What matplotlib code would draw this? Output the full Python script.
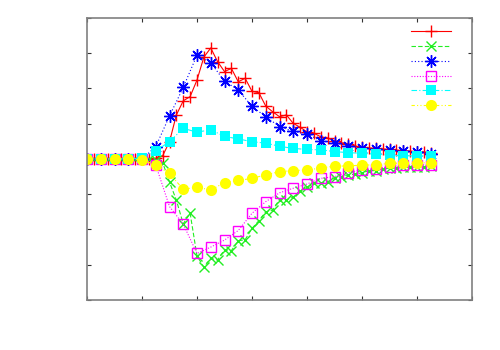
import numpy as np
import matplotlib
matplotlib.use("Agg")
import matplotlib.pyplot as plt

# x positions (index units; tick every 4)
x_fine = np.arange(0, 25.01, 0.5)
x_coarse = np.arange(0, 26, 1)

red = [0]*10 + [0.02, 0.09, 0.49, 1.25, 1.65, 1.77, 2.24, 2.89, 3.15, 2.76,
                2.48, 2.57, 2.19, 2.29, 1.92, 1.88, 1.50, 1.34, 1.20, 1.25,
                1.01, 0.90, 0.77, 0.73, 0.63, 0.59, 0.52, 0.46, 0.43, 0.37,
                0.33, 0.31, 0.30, 0.28, 0.27, 0.25, 0.24, 0.22, 0.21, 0.20, 0.18]
green = [0]*10 + [-0.02, -0.10, -0.65, -1.17, -1.84, -1.54, -2.75, -3.07, -2.82, -2.87,
                  -2.57, -2.60, -2.32, -2.29, -1.97, -1.75, -1.50, -1.45, -1.15, -1.16,
                  -1.08, -0.90, -0.80, -0.69, -0.69, -0.64, -0.55, -0.50, -0.45, -0.43,
                  -0.39, -0.33, -0.33, -0.29, -0.26, -0.26, -0.24, -0.24, -0.22, -0.22, -0.20]
blue = [0, 0, 0, 0, 0, 0.35, 1.22, 2.03, 2.95, 2.73, 2.21, 1.96, 1.49, 1.20, 0.92,
        0.78, 0.71, 0.52, 0.46, 0.37, 0.31, 0.28, 0.25, 0.22, 0.19, 0.15]
magenta = [0, 0, 0, 0, 0, -0.17, -1.35, -1.85, -2.68, -2.50, -2.30, -2.03, -1.54, -1.21,
           -0.96, -0.83, -0.71, -0.55, -0.50, -0.39, -0.30, -0.27, -0.22, -0.18, -0.17, -0.16]
cyan = [0, 0, 0, 0, 0.03, 0.23, 0.49, 0.87, 0.76, 0.83, 0.64, 0.57, 0.49, 0.45, 0.36,
        0.30, 0.27, 0.26, 0.21, 0.18, 0.16, 0.14, 0.11, 0.09, 0.09, 0.085]
yellow = [0, 0, 0, 0, -0.03, -0.17, -0.41, -0.86, -0.80, -0.88, -0.67, -0.61, -0.55, -0.45,
          -0.36, -0.33, -0.31, -0.26, -0.20, -0.20, -0.17, -0.17, -0.12, -0.12, -0.12, -0.10]

fig = plt.figure(figsize=(5, 3.5), dpi=100)
ax = fig.add_axes([0.174, 0.1429, 0.770, 0.8057])

lw = 0.8
ax.plot(x_fine, red, color='#ff0000', lw=lw, ls='-', marker='+', ms=9, mew=1.0)
ax.plot(x_fine, green, color='#22ee22', lw=lw, ls=(0, (4, 2)), marker='x', ms=6.5, mew=1.0)
ax.plot(x_coarse, blue, color='#0000ff', lw=lw, ls=(0, (1, 2)), marker=(8, 2, 0), ms=9, mew=1.0)
ax.plot(x_coarse, magenta, color='#ff00ff', lw=lw, ls=(0, (1, 1.5)), marker='s', ms=7,
        mfc='none', mew=1.0)
ax.plot(x_coarse, cyan, color='#00ffff', lw=lw, ls=(0, (5, 2, 1, 2)), marker='s', ms=7, mew=0)
ax.plot(x_coarse, yellow, color='#ffff00', lw=lw, ls=(0, (3, 2, 1, 2, 1, 2)), marker='o', ms=8, mew=0)

ax.set_xlim(0, 28)
ax.set_ylim(-4, 4)
ax.set_xticks(np.arange(0, 29, 4))
ax.set_yticks(np.arange(-4, 5, 1))
ax.tick_params(direction='in', length=3, width=0.8, top=True, right=True,
               labelbottom=False, labelleft=False, color='#333333')
for s in ax.spines.values():
    s.set_color('#808080')
    s.set_linewidth(1.2)

ax.legend([''] * 6, loc='upper right', frameon=False, handlelength=2.9,
          handletextpad=0.0, labelspacing=0.06, fontsize=10,
          bbox_to_anchor=(0.96, 0.995), borderaxespad=0.0)

fig.savefig('out.png', dpi=100)
